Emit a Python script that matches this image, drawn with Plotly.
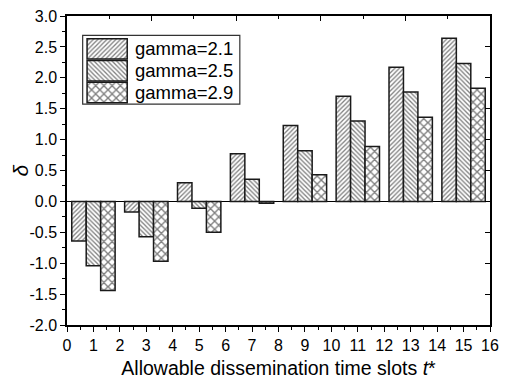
import plotly.graph_objects as go

# Allowable dissemination time slots (group centres on the x axis)
slots = [1, 3, 5, 7, 9, 11, 13, 15]

# delta values for each power-law exponent
delta_gamma_21 = [-0.64, -0.17, 0.30, 0.77, 1.23, 1.70, 2.17, 2.64]
delta_gamma_25 = [-1.04, -0.57, -0.11, 0.36, 0.82, 1.30, 1.77, 2.23]
delta_gamma_29 = [-1.44, -0.97, -0.50, -0.03, 0.43, 0.89, 1.36, 1.83]

series_names = ["gamma=2.1", "gamma=2.5", "gamma=2.9"]
series_values = [delta_gamma_21, delta_gamma_25, delta_gamma_29]

# y tick labels (hyphen minus, one decimal)
y_tick_values = [-2.0, -1.5, -1.0, -0.5, 0.0, 0.5, 1.0, 1.5, 2.0, 2.5, 3.0]
y_tick_labels = ["-2.0", "-1.5", "-1.0", "-0.5", "0.0", "0.5",
                 "1.0", "1.5", "2.0", "2.5", "3.0"]
x_tick_values = list(range(0, 17))

FONT = "Liberation Sans, Arial, sans-serif"
patterns = [
    dict(shape="/", size=3.2, solidity=0.4, fgcolor="black", bgcolor="white"),
    dict(shape="\\", size=3.2, solidity=0.4, fgcolor="black", bgcolor="white"),
    dict(shape="x", size=5.8, solidity=0.42, fgcolor="black", bgcolor="white"),
]
outline = dict(color="#1a1a1a", width=1.5)

fig = go.Figure()
for name, vals, pat in zip(series_names, series_values, patterns):
    fig.add_trace(go.Bar(
        x=slots, y=vals, name=name, showlegend=False,
        marker=dict(color="white", pattern=pat, line=outline),
    ))

# Empty trace so the mirrored top / right frame axes get drawn
fig.add_trace(go.Scatter(x=[None], y=[None], xaxis="x2", yaxis="y2",
                         mode="markers", showlegend=False, hoverinfo="skip"))

# Hand-built legend: wide hatched swatches on a hidden pixel-like axis pair
PW, PH = 432, 319
legend_rows = [34, 56.5, 79]
fig.add_trace(go.Bar(
    orientation="h", y=legend_rows, x=[41, 41, 41], base=[20.5, 20.5, 20.5],
    width=21, offset=-10.5, xaxis="x3", yaxis="y3", showlegend=False,
    hoverinfo="skip",
    marker=dict(color="white",
                pattern=dict(shape=[p["shape"] for p in patterns],
                             size=[p["size"] for p in patterns],
                             solidity=[p["solidity"] for p in patterns],
                             fgcolor="black", bgcolor="white"),
                line=outline),
))
fig.add_shape(type="rect", xref="x3", yref="y3", x0=16, x1=176.5, y0=20, y1=91,
              line=dict(color="#333", width=1.2), fillcolor="rgba(0,0,0,0)",
              layer="below")
for row, name in zip(legend_rows, series_names):
    fig.add_annotation(xref="x3", yref="y3", x=67.5, y=row, text=name,
                       showarrow=False, xanchor="left", yanchor="middle",
                       font=dict(family=FONT, size=18.5, color="black"))

# y-axis title placed as a rotated annotation
fig.add_annotation(xref="paper", yref="paper", x=-0.111, y=0.5, text="<i>δ</i>",
                   textangle=-90, showarrow=False, xanchor="center",
                   yanchor="middle", font=dict(family=FONT, size=21, color="black"))

axis_common = dict(showgrid=False, linecolor="black", linewidth=1.5,
                   tickcolor="black", tickwidth=1.2)

fig.update_layout(
    width=507, height=384,
    margin=dict(l=67, r=8, t=15, b=50),
    paper_bgcolor="white", plot_bgcolor="rgba(0,0,0,0)",
    barmode="group", bargap=0.18, bargroupgap=0,
    font=dict(family=FONT, size=16, color="black"),
    xaxis=dict(
        range=[0, 16], tickvals=x_tick_values, ticks="outside", ticklen=5,
        minor=dict(dtick=0.5, tick0=0, ticks="outside", ticklen=3,
                   tickcolor="black", tickwidth=1.2),
        zeroline=False, showline=True, ticklabeloverflow="allow",
        title=dict(text="Allowable dissemination time slots <i>t</i>*",
                   font=dict(size=19.5), standoff=8),
        tickfont=dict(size=16),
        **axis_common,
    ),
    yaxis=dict(
        range=[-2, 3], tickvals=y_tick_values, ticktext=y_tick_labels,
        ticks="outside", ticklen=5,
        minor=dict(dtick=0.25, tick0=0, ticks="outside", ticklen=3,
                   tickcolor="black", tickwidth=1.2),
        zeroline=True, zerolinecolor="black", zerolinewidth=1.2,
        showline=True,
        tickfont=dict(size=16),
        **axis_common,
    ),
    xaxis2=dict(
        overlaying="x", side="top", anchor="y2", range=[0, 16],
        tick0=0, dtick=3.2, ticks="inside", ticklen=5,
        minor=dict(dtick=1.6, tick0=0, ticks="inside", ticklen=3,
                   tickcolor="black", tickwidth=1.2),
        showticklabels=False, showline=True, zeroline=False,
        **axis_common,
    ),
    yaxis2=dict(
        overlaying="y", side="right", anchor="x2", range=[-2, 3],
        tick0=0, dtick=0.5, ticks="inside", ticklen=5,
        showticklabels=False, showline=True, zeroline=False,
        **axis_common,
    ),
    xaxis3=dict(domain=[0, 1], anchor="y3", range=[0, PW], visible=False,
                fixedrange=True),
    yaxis3=dict(domain=[0, 1], anchor="x3", range=[PH, 0], visible=False,
                fixedrange=True),
)

fig.write_html("out.html")
